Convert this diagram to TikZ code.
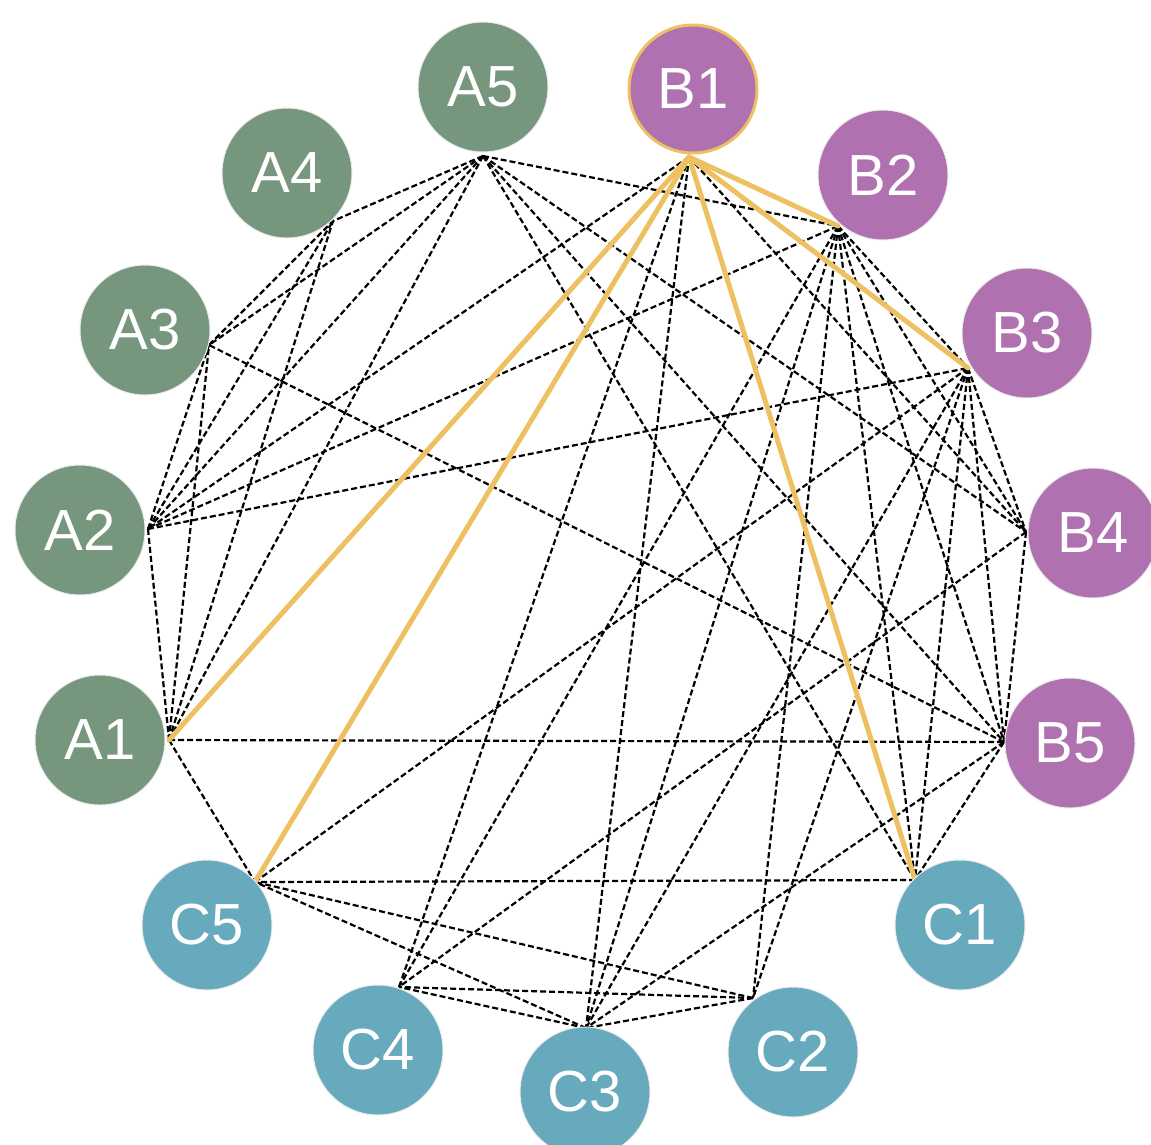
\documentclass[tikz,border=0pt]{standalone}
\usepackage{fontspec}
\setmainfont{Liberation Sans}
\definecolor{gA}{RGB}{118,151,125}
\definecolor{pB}{RGB}{176,113,176}
\definecolor{tC}{RGB}{104,170,189}
\definecolor{yel}{RGB}{237,193,98}
\begin{document}
\begin{tikzpicture}[x=1pt,y=-1pt,
  circ/.style={circle, minimum size=130pt, inner sep=0pt, text=white, draw=black!8, line width=1pt, font=\fontsize{58}{60}\selectfont},
  edge/.style={black, dash pattern=on 6pt off 3pt, line width=2.2pt},
  hl/.style={yel, line width=5pt, line cap=round}]
\useasboundingbox (0,0) rectangle (1151,1144);
% connection points
\coordinate (pA5) at (483,156);
\coordinate (pB1) at (689,157);
\coordinate (pB2) at (838,226);
\coordinate (pB3) at (968,368);
\coordinate (pB4) at (1026,532);
\coordinate (pB5) at (1004,742);
\coordinate (pC1) at (915,880);
\coordinate (pC2) at (753,998);
\coordinate (pC3) at (586,1028);
\coordinate (pC4) at (399,987);
\coordinate (pC5) at (255,882);
\coordinate (pA1) at (169,740);
\coordinate (pA2) at (148,529);
\coordinate (pA3) at (209,345);
\coordinate (pA4) at (333,221);
% dashed edges
\foreach \a/\b in {A5/A4,A5/A3,A5/A2,A5/A1,A5/B2,A5/B4,A5/B5,A5/C1,
  B1/A2,B1/C4,B1/C3,B1/B4,
  A2/A1,A2/A3,A2/A4,A2/B2,A2/B3,
  A1/A3,A1/A4,A1/B5,A1/C5,
  B2/B3,B2/B4,B2/B5,B2/C1,B2/C2,B2/C3,B2/C4,
  B3/B4,B3/B5,B3/C5,B3/C3,B3/C2,B3/C1,
  B4/B5,B4/C4,B5/A3,B5/C3,B5/C1,
  C1/C5,C2/C3,C2/C4,C2/C5,C3/C4,C3/C5,A3/A4}
  \draw[edge] (p\a) -- (p\b);
% highlighted edges
\foreach \b in {A1,C5,C1,B2,B3}
  \draw[hl] (pB1) -- (p\b);
% nodes
\node[circ, fill=gA] (A5) at (483,87) {A5};
\node[circ, fill=pB, draw=yel, line width=3pt, minimum size=128pt] (B1) at (693,89) {B1};
\node[circ, fill=pB] (B2) at (883,175) {B2};
\node[circ, fill=pB] (B3) at (1027,333) {B3};
\node[circ, fill=pB] (B4) at (1093,533) {B4};
\node[circ, fill=pB] (B5) at (1070,743) {B5};
\node[circ, fill=tC] (C1) at (960,925) {C1};
\node[circ, fill=tC] (C2) at (793,1052) {C2};
\node[circ, fill=tC] (C3) at (585,1092) {C3};
\node[circ, fill=tC] (C4) at (378,1050) {C4};
\node[circ, fill=tC] (C5) at (207,925) {C5};
\node[circ, fill=gA] (A1) at (100,740) {A1};
\node[circ, fill=gA] (A2) at (80,530) {A2};
\node[circ, fill=gA] (A3) at (145,330) {A3};
\node[circ, fill=gA] (A4) at (287,173) {A4};
\end{tikzpicture}
\end{document}
